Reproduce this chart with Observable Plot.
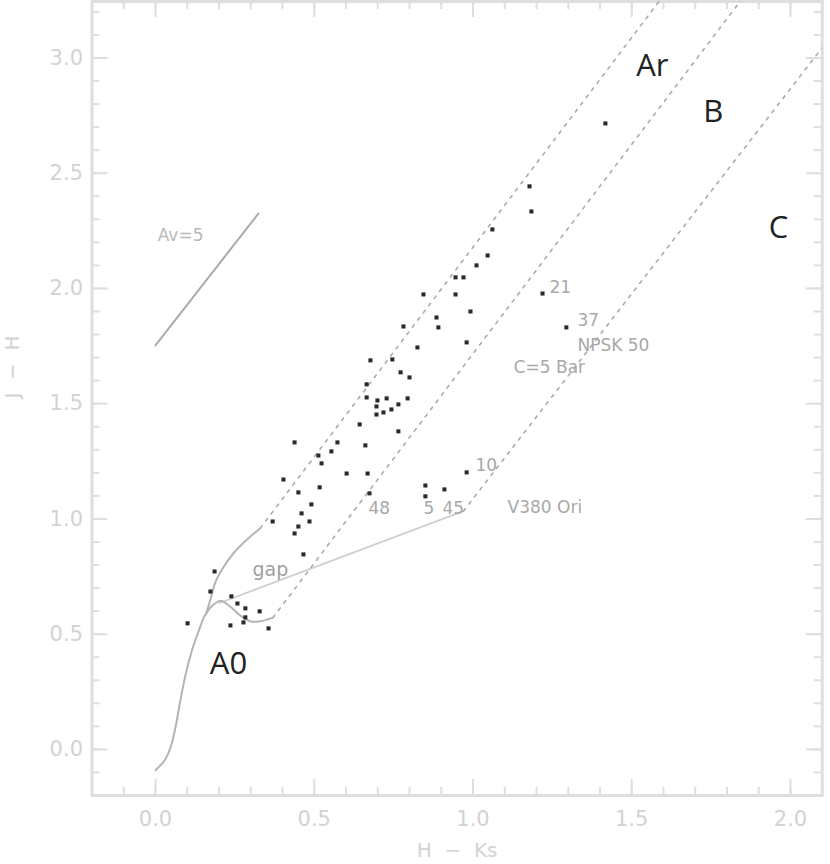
<!DOCTYPE html>
<html>
<head>
<meta charset="utf-8">
<script src="https://cdn.jsdelivr.net/npm/d3@7"></script>
<script src="https://cdn.jsdelivr.net/npm/@observablehq/plot@0.6"></script>
<style>
  html, body { margin: 0; padding: 0; background: #fff; }
  #chart svg { display: block; }
</style>
</head>
<body>
<div id="chart"></div>
<script>
// ---- data (H-Ks, J-H) ----
const starHK = [1.417,1.178,1.184,1.061,1.046,1.011,0.945,0.970,0.844,0.945,0.992,0.885,0.891,0.781,0.825,0.980,1.219,1.294,
  0.677,0.746,0.772,0.800,0.665,0.665,0.699,0.728,0.696,0.718,0.743,0.765,0.794,0.696,0.643,0.765,0.573,0.438,0.661,0.554,0.513,0.523,
  0.403,0.517,0.450,0.602,0.668,0.674,0.980,0.850,0.850,0.910,0.491,0.460,0.485,0.450,0.438,0.369,0.466,
  0.186,0.173,0.101,0.239,0.258,0.283,0.283,0.277,0.328,0.236,0.356];
const starJH = [2.716,2.443,2.334,2.256,2.143,2.100,2.048,2.048,1.974,1.974,1.900,1.874,1.831,1.835,1.744,1.766,1.978,1.831,
  1.688,1.692,1.636,1.614,1.584,1.527,1.514,1.523,1.488,1.462,1.475,1.497,1.523,1.453,1.410,1.380,1.332,1.332,1.319,1.293,1.275,1.241,
  1.171,1.137,1.115,1.197,1.197,1.111,1.202,1.145,1.098,1.128,1.063,1.024,0.989,0.967,0.937,0.989,0.846,
  0.772,0.685,0.547,0.664,0.633,0.612,0.573,0.551,0.599,0.538,0.525];

// main sequence (dwarfs) and giant branch
const msHK = [0.000,0.030,0.050,0.065,0.078,0.094,0.115,0.135,0.155,0.180,0.205,0.235,0.268,0.300,0.330,0.370];
const msJH = [-0.090,-0.045,0.020,0.110,0.210,0.320,0.430,0.510,0.580,0.625,0.645,0.620,0.580,0.555,0.556,0.572];
const giantHK = [0.160,0.175,0.190,0.214,0.245,0.280,0.330];
const giantJH = [0.590,0.660,0.730,0.790,0.850,0.900,0.960];
// CTTS locus
const cttsHK = [0.20,0.97];
const cttsJH = [0.634,1.034];
// reddening lines (start, end)
const redAr = {hk:[0.330,1.650], jh:[0.960,3.362]};
const redB  = {hk:[0.370,1.950], jh:[0.572,3.443]};
const redC  = {hk:[0.970,2.200], jh:[1.034,3.223]};
// extinction vector Av=5
const avHK = [0.000,0.324];
const avJH = [1.753,2.325];

// labels
const bigLabels = ["Ar","B","C","A0"];
const bigHK = [1.565,1.757,1.962,0.230];
const bigJH = [2.963,2.764,2.260,0.369];
const smallLabels = ["21","37","NPSK 50","C=5 Bar","10","48","5","45","V380 Ori"];
const smallHK = [1.241,1.329,1.329,1.128,1.008,0.671,0.844,0.904,1.109];
const smallJH = [2.004,1.861,1.753,1.657,1.232,1.046,1.046,1.046,1.050];

const xMajor = [0,0.5,1.0,1.5,2.0];
const yMajor = [0,0.5,1.0,1.5,2.0,2.5,3.0];

// ---- build ----
const stars = starHK.map((v,i)=>({hk:v, jh:starJH[i]}));
const toPts = (a,b)=>a.map((v,i)=>({hk:v, jh:b[i]}));
const xMin=-0.2, xMax=2.1, yMin=-0.2, yMax=3.245;
const xMinor = d3.range(-0.1, 2.101, 0.1).map(v=>+v.toFixed(2));
const yMinor = d3.range(-0.1, 3.201, 0.1).map(v=>+v.toFixed(2));
const W=830, H=864, mL=91.5, mR=8.25, mT=1, mB=69;
const kx = (W-mL-mR)/(xMax-xMin), ky=(H-mT-mB)/(yMax-yMin);
const tMaj=16, tMin=8;
const frameC="#dedede", tickLab="#d2d2d2", lineC="#b4b4b4";

const tickMarks = [];
for (const [vals, len] of [[xMajor,tMaj],[xMinor,tMin]]) {
  tickMarks.push(Plot.ruleX(vals,{y1:yMin, y2:yMin+len/ky, stroke:frameC, strokeWidth:2}));
  tickMarks.push(Plot.ruleX(vals,{y1:yMax, y2:yMax-len/ky, stroke:frameC, strokeWidth:2}));
}
for (const [vals, len] of [[yMajor,tMaj],[yMinor,tMin]]) {
  tickMarks.push(Plot.ruleY(vals,{x1:xMin, x2:xMin+len/kx, stroke:frameC, strokeWidth:2}));
  tickMarks.push(Plot.ruleY(vals,{x1:xMax, x2:xMax-len/kx, stroke:frameC, strokeWidth:2}));
}

const redLine = r => Plot.line(toPts(r.hk, r.jh), {x:"hk", y:"jh", stroke:"#aaa", strokeWidth:1.6, strokeDasharray:"3,6", clip:true});

const chart = Plot.plot({
  width: W, height: H,
  marginLeft: mL, marginRight: mR, marginTop: mT, marginBottom: mB,
  style: {fontFamily: "'DejaVu Sans', sans-serif", background: "#fff"},
  x: {domain:[xMin,xMax]},
  y: {domain:[yMin,yMax]},
  marks: [
    Plot.frame({stroke: frameC, strokeWidth: 3}),
    ...tickMarks,
    Plot.axisX({ticks: xMajor, tickSize: 0, tickPadding: 16, tickFormat: d3.format(".1f"), fontSize: 21, fill: tickLab, label: null}),
    Plot.axisY({ticks: yMajor, tickSize: 0, tickPadding: 9, tickFormat: d3.format(".1f"), fontSize: 21, fill: tickLab, label: null}),
    Plot.text(["H\u00a0\u00a0\u2212\u00a0\u00a0Ks"], {frameAnchor:"bottom", dy:47, lineAnchor:"top", fontSize:20, fill:tickLab}),
    Plot.text(["J\u00a0\u00a0\u2212\u00a0\u00a0H"], {frameAnchor:"left", dx:-79, rotate:-90, fontSize:20, fill:tickLab}),
    Plot.line(toPts(cttsHK, cttsJH), {x:"hk", y:"jh", stroke:"#d0d0d0", strokeWidth:1.8}),
    Plot.line(toPts(msHK, msJH), {x:"hk", y:"jh", stroke:lineC, strokeWidth:2, curve:"catmull-rom"}),
    Plot.line(toPts(giantHK, giantJH), {x:"hk", y:"jh", stroke:lineC, strokeWidth:2, curve:"catmull-rom"}),
    redLine(redAr), redLine(redB), redLine(redC),
    Plot.line(toPts(avHK, avJH), {x:"hk", y:"jh", stroke:"#aaa", strokeWidth:2}),
    Plot.text(["Av=5"], {x:[0.079], y:[2.23], text:d=>d, fontSize:17, fill:"#b8b8b8"}),
    Plot.text(["gap"], {x:[0.362], y:[0.777], text:d=>d, fontSize:19, fill:"#a0a0a0"}),
    Plot.dot(stars, {x:"hk", y:"jh", symbol:"square", r:2.3, fill:"#2a2a2a", stroke:"none"}),
    Plot.text(smallLabels, {x:(d,i)=>smallHK[i], y:(d,i)=>smallJH[i], text:d=>d, textAnchor:"start", fontSize:17, fill:"#a8a8a8"}),
    Plot.text(bigLabels, {x:(d,i)=>bigHK[i], y:(d,i)=>bigJH[i], text:d=>d, fontSize:31, fill:"#222", fontFamily:"'Open Sans', sans-serif"})
  ]
});
document.getElementById("chart").appendChild(chart);
</script>
</body>
</html>
